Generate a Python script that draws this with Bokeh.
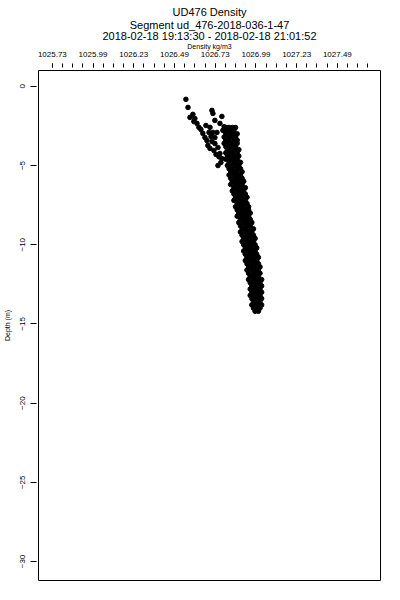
from bokeh.plotting import figure
from bokeh.layouts import column
from bokeh.models import Range1d, FixedTicker, Title, ColumnDataSource, Spacer
from bokeh.embed import file_html
from bokeh.resources import INLINE

FONT = "Liberation Sans"

title_lines = ["UD476 Density",
               "Segment ud_476-2018-036-1-47",
               "2018-02-18 19:13:30 - 2018-02-18 21:01:52"]
x_label = "Density kg/m3"
y_label = "Depth (m)"

x_tick_labels = ["1025.73", "1025.99", "1026.23", "1026.49",
                 "1026.73", "1026.99", "1027.23", "1027.49"]
x_tick_values = [1025.735, 1025.985, 1026.235, 1026.485,
                 1026.735, 1026.985, 1027.235, 1027.485]
y_tick_values = [0, -5, -10, -15, -20, -25, -30]

# shallow scattered samples (density kg/m3, depth m)
shallow_density = [1026.555, 1026.568, 1026.580, 1026.598, 1026.610, 1026.604,
                   1026.623, 1026.635, 1026.647, 1026.659, 1026.672, 1026.684,
                   1026.690, 1026.715, 1026.721, 1026.733, 1026.776, 1026.764,
                   1026.746, 1026.721, 1026.703, 1026.678, 1026.697, 1026.709,
                   1026.715, 1026.733, 1026.733, 1026.752, 1026.703, 1026.727,
                   1026.764, 1026.776, 1026.770, 1026.752, 1026.782, 1026.790,
                   1026.740, 1026.758]
shallow_depth = [-0.82, -1.33, -1.96, -1.77, -2.03, -2.22,
                 -2.34, -2.59, -2.72, -2.97, -3.23, -3.42,
                 -3.73, -1.52, -1.71, -2.15, -1.90, -2.34,
                 -2.91, -2.91, -2.59, -2.47, -2.91, -3.16,
                 -3.48, -3.23, -3.61, -3.86, -3.92, -4.05,
                 -4.24, -4.56, -4.81, -5.00, -2.78, -2.55,
                 -4.30, -4.45]

# main profile: depth rows and the densities sampled at each row
profile_depth = [-2.6, -2.8, -3.0, -3.2, -3.4, -3.6, -3.8, -4.0, -4.2, -4.4,
                 -4.6, -4.8, -5.0, -5.2, -5.4, -5.6, -5.8, -6.0, -6.2, -6.4,
                 -6.6, -6.8, -7.0, -7.2, -7.4, -7.6, -7.8, -8.0, -8.2, -8.4,
                 -8.6, -8.8, -9.0, -9.2, -9.4, -9.6, -9.8, -10.0, -10.2, -10.4,
                 -10.6, -10.8, -11.0, -11.2, -11.4, -11.6, -11.8, -12.0, -12.2, -12.4,
                 -12.6, -12.8, -13.0, -13.2, -13.4, -13.6, -13.8, -14.0, -14.2]
profile_density = [
    [1026.80, 1026.82, 1026.84, 1026.86], [1026.79, 1026.81, 1026.83, 1026.85],
    [1026.80, 1026.83, 1026.85, 1026.87], [1026.79, 1026.82, 1026.84, 1026.86],
    [1026.80, 1026.82, 1026.85, 1026.87], [1026.79, 1026.81, 1026.84, 1026.87],
    [1026.80, 1026.83, 1026.85, 1026.86], [1026.81, 1026.83, 1026.86, 1026.88],
    [1026.80, 1026.82, 1026.84, 1026.87], [1026.81, 1026.83, 1026.85, 1026.88],
    [1026.80, 1026.83, 1026.86, 1026.87], [1026.82, 1026.84, 1026.86, 1026.89],
    [1026.81, 1026.83, 1026.86, 1026.88], [1026.82, 1026.84, 1026.87, 1026.89],
    [1026.83, 1026.85, 1026.87, 1026.90], [1026.82, 1026.85, 1026.87, 1026.89],
    [1026.83, 1026.86, 1026.88, 1026.90], [1026.84, 1026.86, 1026.88, 1026.91],
    [1026.83, 1026.86, 1026.88, 1026.90], [1026.85, 1026.87, 1026.89, 1026.92],
    [1026.84, 1026.87, 1026.89, 1026.91], [1026.85, 1026.88, 1026.90, 1026.92],
    [1026.86, 1026.88, 1026.90, 1026.93], [1026.85, 1026.88, 1026.90, 1026.92],
    [1026.87, 1026.89, 1026.91, 1026.93], [1026.86, 1026.89, 1026.91, 1026.94],
    [1026.87, 1026.90, 1026.92, 1026.94], [1026.88, 1026.90, 1026.92, 1026.95],
    [1026.87, 1026.90, 1026.92, 1026.94], [1026.89, 1026.91, 1026.93, 1026.95],
    [1026.88, 1026.91, 1026.93, 1026.96], [1026.89, 1026.92, 1026.94, 1026.95],
    [1026.90, 1026.92, 1026.94, 1026.97], [1026.89, 1026.92, 1026.94, 1026.96],
    [1026.90, 1026.93, 1026.95, 1026.97], [1026.91, 1026.93, 1026.95, 1026.98],
    [1026.90, 1026.93, 1026.95, 1026.97], [1026.91, 1026.94, 1026.96, 1026.98],
    [1026.92, 1026.94, 1026.96, 1026.99], [1026.91, 1026.94, 1026.96, 1026.98],
    [1026.92, 1026.95, 1026.97, 1026.99], [1026.93, 1026.95, 1026.97, 1027.00],
    [1026.92, 1026.95, 1026.97, 1026.99], [1026.93, 1026.96, 1026.98, 1027.00],
    [1026.94, 1026.96, 1026.98, 1027.01], [1026.93, 1026.96, 1026.98, 1027.00],
    [1026.94, 1026.97, 1026.99, 1027.01], [1026.95, 1026.97, 1026.99, 1027.00],
    [1026.94, 1026.97, 1026.99, 1027.02], [1026.95, 1026.97, 1026.99, 1027.01],
    [1026.96, 1026.98, 1027.00, 1027.02], [1026.95, 1026.97, 1026.99, 1027.01],
    [1026.96, 1026.98, 1027.00, 1027.02], [1026.95, 1026.97, 1026.99, 1027.01],
    [1026.96, 1026.98, 1027.00, 1027.02], [1026.97, 1026.99, 1027.01],
    [1026.96, 1026.98, 1027.00, 1027.02], [1026.97, 1026.99, 1027.01],
    [1026.98, 1027.00],
]

xs = list(shallow_density)
ys = list(shallow_depth)
for d, row in zip(profile_depth, profile_density):
    for v in row:
        xs.append(v)
        ys.append(d)

source = ColumnDataSource(data=dict(density=xs, depth=ys))

p = figure(frame_width=342, frame_height=510,
           x_range=Range1d(1025.65, 1027.75), y_range=Range1d(-31.2, 1.0),
           x_axis_location="above", y_axis_location="left",
           output_backend="svg", toolbar_location=None, title=None,
           min_border_left=0, min_border_right=10, min_border_bottom=6,
           min_border_top=0)

p.scatter("density", "depth", source=source, size=4.6, marker="circle",
          color="black", line_width=1)

p.grid.visible = False
p.outline_line_color = "black"
p.outline_line_width = 1

# x axis (top)
minor = [x_tick_values[0] + 0.0625 * i for i in range(32)]
xa = p.xaxis[0]
xa.ticker = FixedTicker(ticks=x_tick_values, minor_ticks=minor)
xa.major_label_overrides = {v: s for v, s in zip(x_tick_values, x_tick_labels)}
xa.axis_line_color = None
xa.major_tick_out = 7
xa.major_tick_in = -3
xa.minor_tick_out = 7
xa.minor_tick_in = -3
xa.major_tick_line_color = "black"
xa.minor_tick_line_color = "black"
xa.major_label_text_font = FONT
xa.major_label_text_font_size = "8px"
xa.major_label_text_color = "black"
xa.major_label_standoff = 7
xa.axis_label = x_label
xa.axis_label_text_font = FONT
xa.axis_label_text_font_size = "7px"
xa.axis_label_text_font_style = "normal"
xa.axis_label_text_color = "black"
xa.axis_label_standoff = -1

# y axis (left)
ya = p.yaxis[0]
ya.ticker = FixedTicker(ticks=y_tick_values, minor_ticks=[])
ya.axis_line_color = None
ya.major_tick_out = 8
ya.major_tick_in = -2
ya.minor_tick_out = 0
ya.minor_tick_in = 0
ya.major_tick_line_color = "black"
ya.major_label_orientation = "vertical"
ya.major_label_text_font = FONT
ya.major_label_text_font_size = "8px"
ya.major_label_text_color = "black"
ya.major_label_standoff = 5
ya.axis_label = y_label
ya.axis_label_text_font = FONT
ya.axis_label_text_font_size = "7px"
ya.axis_label_text_font_style = "normal"
ya.axis_label_text_color = "black"
ya.axis_label_standoff = 7

title_standoffs = [-1, -2, -4]
for line, so in reversed(list(zip(title_lines, title_standoffs))):
    p.add_layout(Title(text=line, align="center", text_font=FONT,
                       text_font_size="11px", text_font_style="normal",
                       text_color="black", standoff=so, offset=0), "above")

layout = column(Spacer(height=4), p)
open("out.html", "w").write(file_html(layout, INLINE))
